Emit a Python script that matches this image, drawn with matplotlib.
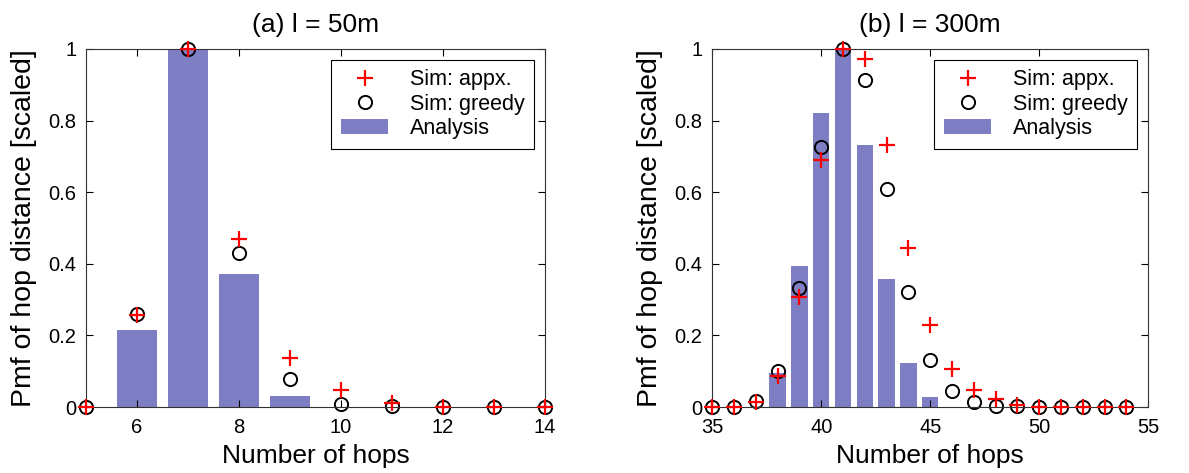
import matplotlib
matplotlib.use("Agg")
import matplotlib.pyplot as plt

plt.rcParams['font.family'] = ['Liberation Sans', 'DejaVu Sans']

# (a) l = 50m
hops_a = [5, 6, 7, 8, 9, 10, 11, 12, 13, 14]
analysis_a = [0, 0.216, 1.0, 0.372, 0.030, 0, 0, 0, 0, 0]
appx_a = [0, 0.257, 1.0, 0.469, 0.137, 0.048, 0.010, 0, 0, 0]
greedy_a = [0, 0.26, 1.0, 0.43, 0.078, 0.009, 0.003, 0, 0, 0]

# (b) l = 300m
hops_b = list(range(35, 55))
analysis_b = [0, 0, 0, 0.095, 0.393, 0.821, 1.0, 0.733, 0.358, 0.123,
              0.028, 0, 0, 0, 0, 0, 0, 0, 0, 0]
appx_b = [0, 0, 0.013, 0.086, 0.306, 0.69, 1.0, 0.973, 0.731, 0.444,
          0.23, 0.106, 0.048, 0.022, 0.006, 0, 0, 0, 0, 0]
greedy_b = [0, 0, 0.018, 0.1, 0.332, 0.725, 1.0, 0.912, 0.609, 0.322,
            0.132, 0.044, 0.013, 0.004, 0.002, 0, 0, 0, 0, 0]

BAR_COLOR = '#7E7EC4'

fig = plt.figure(figsize=(11.89, 4.73), dpi=100)
ax_a = fig.add_axes([0.0723, 0.1395, 0.386, 0.757])
ax_b = fig.add_axes([0.599, 0.1395, 0.3667, 0.757])


def draw(ax, hops, analysis, appx, greedy, title, xlim, xticks, width):
    ax.bar(hops, analysis, width=width, color=BAR_COLOR, label='Analysis', zorder=1)
    ax.plot(hops, appx, linestyle='none', marker='+', color='red', markersize=11,
            markeredgewidth=1.6, label='Sim: appx.', zorder=3, clip_on=False)
    ax.plot(hops, greedy, linestyle='none', marker='o', markerfacecolor='none',
            markeredgecolor='black', markersize=9.5, markeredgewidth=1.4,
            label='Sim: greedy', zorder=2, clip_on=False)
    ax.set_xlim(xlim)
    ax.set_ylim(0, 1)
    ax.set_xticks(xticks)
    ax.set_yticks([0, 0.2, 0.4, 0.6, 0.8, 1])
    ax.set_yticklabels(['0', '0.2', '0.4', '0.6', '0.8', '1'])
    ax.tick_params(direction='in', top=True, right=True, length=5, labelsize=14.5,
                   width=0.8)
    ax.tick_params(axis='x', pad=8)
    ax.tick_params(axis='y', pad=7)
    for s in ax.spines.values():
        s.set_linewidth(0.8)
        s.set_color('#333333')
    ax.set_title(title, fontsize=19, pad=12)
    ax.set_xlabel('Number of hops', fontsize=19, labelpad=5)
    ax.set_ylabel('Pmf of hop distance [scaled]', fontsize=20.5, labelpad=8)
    leg = ax.legend(loc='upper right', fontsize=15.5, fancybox=False, framealpha=1,
                    edgecolor='black', borderaxespad=0.5, handlelength=2.2,
                    labelspacing=0.15, handletextpad=1.0, borderpad=0.45)
    leg.get_frame().set_linewidth(0.8)


draw(ax_a, hops_a, analysis_a, appx_a, greedy_a, '(a) l = 50m',
     (5, 14), [6, 8, 10, 12, 14], 0.78)
draw(ax_b, hops_b, analysis_b, appx_b, greedy_b, '(b) l = 300m',
     (35, 55), [35, 40, 45, 50, 55], 0.75)

fig.savefig('out.png', dpi=100)
